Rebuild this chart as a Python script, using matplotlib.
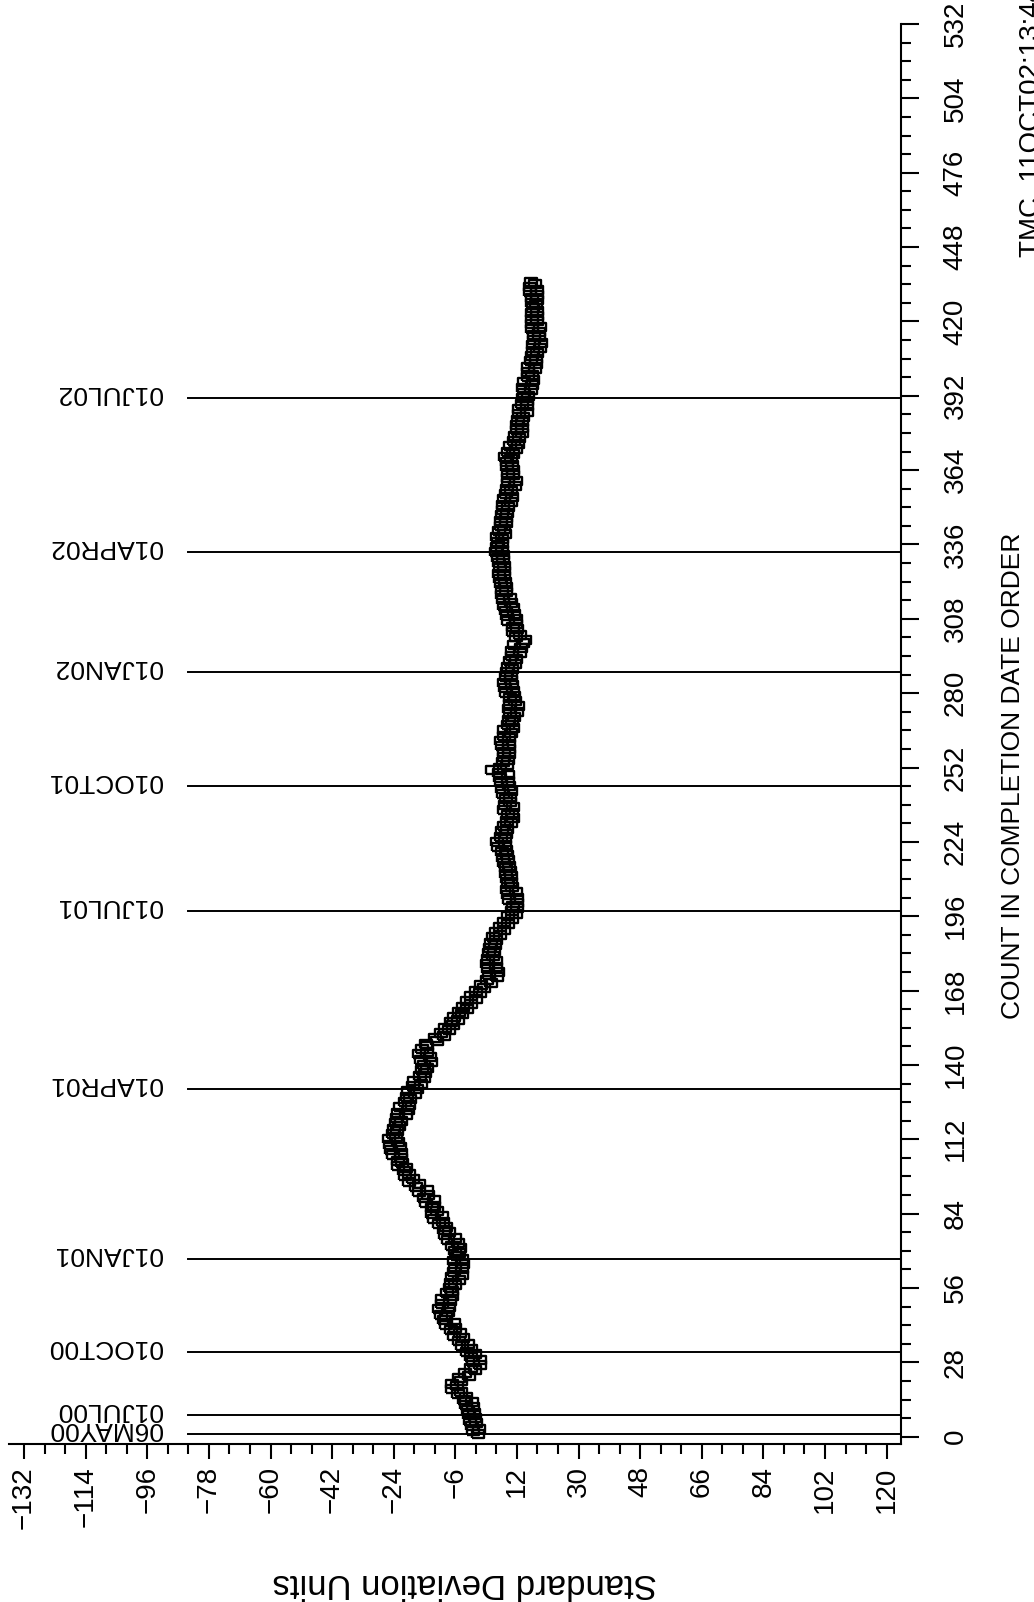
import numpy as np
import matplotlib
matplotlib.use("Agg")
import matplotlib.pyplot as plt
from matplotlib.ticker import FixedLocator, MultipleLocator

# standard deviation units, one value per completion count (1..435)
sd_values = [
    0.6, -0.8, 0.9, -1.2, 0.1, -1.7, -0.2, -2.0, -0.6, -2.3,
    -0.9, -2.8, -1.2, -3.6, -2.9, -5.2, -4.3, -7.0, -5.6, -6.9,
    -4.4, -5.0, -2.1, -3.2, -0.3, -1.5, 1.3, -0.9, 1.2, -1.4,
    -0.2, -2.7, -1.5, -4.1, -2.2, -5.0, -3.9, -6.5, -4.5, -7.2,
    -6.1, -8.7, -6.5, -9.4, -8.6, -10.1, -8.2, -10.9, -7.9, -10.0,
    -7.6, -9.8, -7.0, -8.3, -6.9, -7.6, -6.0, -7.2, -4.8, -6.9,
    -4.2, -6.4, -4.0, -6.2, -3.8, -6.3, -4.2, -5.6, -5.0, -6.1,
    -4.6, -6.9, -5.1, -8.1, -6.0, -8.9, -7.8, -9.2, -8.6, -10.8,
    -9.6, -12.1, -10.0, -12.8, -11.4, -12.9, -12.2, -14.5, -12.1, -15.1,
    -13.9, -16.5, -14.2, -17.4, -16.5, -19.5, -18.3, -20.8, -19.6, -21.0,
    -20.3, -22.8, -21.5, -22.7, -22.0, -24.2, -21.8, -24.7, -22.3, -25.0,
    -22.8, -25.5, -23.2, -24.1, -23.0, -23.8, -22.5, -23.4, -21.9, -23.0,
    -20.5, -22.8, -19.9, -22.1, -19.4, -20.6, -19.3, -20.0, -17.7, -19.8,
    -17.2, -18.4, -15.9, -18.1, -15.2, -16.3, -15.0, -15.7, -14.3, -15.2,
    -13.2, -15.9, -13.5, -16.5, -14.3, -15.6, -14.4, -14.5, -11.3, -12.0,
    -9.4, -10.3, -7.9, -9.0, -6.7, -7.4, -5.1, -6.3, -4.0, -5.0,
    -2.7, -3.8, -1.4, -2.5, -0.1, -1.3, 1.2, -0.1, 2.5, 1.6,
    4.3, 3.3, 6.2, 3.9, 6.5, 3.5, 5.8, 3.3, 5.9, 3.6,
    5.0, 3.9, 5.2, 4.1, 5.5, 4.5, 6.0, 4.9, 7.1, 6.0,
    8.2, 7.0, 9.3, 8.1, 10.5, 9.5, 11.8, 10.6, 12.0, 10.9,
    12.1, 9.7, 11.9, 9.5, 11.8, 9.2, 10.6, 9.3, 10.4, 9.0,
    10.2, 8.9, 9.9, 8.7, 9.8, 8.3, 9.3, 7.9, 9.0, 7.7,
    8.8, 6.4, 8.6, 6.1, 8.5, 7.3, 8.7, 7.7, 9.2, 8.2,
    10.4, 9.2, 10.7, 9.5, 10.5, 8.3, 10.8, 8.5, 9.9, 8.7,
    10.0, 7.8, 10.2, 7.6, 9.8, 7.3, 9.5, 7.0, 9.3, 6.7,
    4.6, 7.0, 9.2, 8.0, 9.3, 8.2, 9.6, 8.3, 9.7, 7.6,
    9.8, 7.4, 9.6, 8.1, 10.3, 8.2, 10.7, 9.3, 10.6, 9.6,
    11.1, 9.9, 12.0, 9.7, 12.2, 10.0, 11.3, 9.9, 11.0, 8.8,
    10.8, 8.4, 10.5, 8.1, 10.4, 8.9, 10.3, 9.2, 10.6, 9.4,
    11.5, 10.1, 11.6, 10.5, 12.8, 10.6, 13.2, 11.1, 13.7, 14.4,
    11.7, 13.0, 10.8, 12.1, 10.7, 11.7, 9.4, 11.6, 9.0, 11.1,
    8.7, 10.8, 8.3, 10.4, 8.0, 10.0, 7.6, 8.9, 7.5, 8.7,
    7.2, 8.4, 7.0, 8.1, 6.8, 8.3, 7.1, 8.2, 6.7, 8.0,
    6.5, 7.8, 6.0, 7.5, 6.1, 7.7, 6.4, 7.6, 6.2, 8.4,
    6.8, 8.3, 7.2, 8.7, 7.4, 8.9, 7.7, 9.1, 7.8, 9.3,
    8.0, 10.2, 8.1, 10.5, 8.9, 10.4, 9.2, 11.4, 9.3, 11.6,
    9.4, 10.9, 9.5, 10.7, 9.2, 10.5, 9.0, 10.2, 8.6, 10.8,
    9.4, 11.7, 10.1, 12.4, 11.0, 12.5, 11.3, 13.5, 12.0, 13.4,
    12.1, 13.6, 12.4, 13.9, 12.7, 14.8, 12.6, 15.0, 13.5, 14.9,
    13.7, 15.2, 14.0, 16.1, 13.9, 16.3, 14.2, 16.6, 15.1, 16.5,
    15.3, 17.4, 15.1, 17.7, 16.2, 17.6, 16.4, 17.9, 16.7, 18.8,
    16.6, 19.0, 16.9, 18.3, 17.0, 18.5, 16.3, 18.7, 16.4, 17.9,
    16.5, 17.8, 16.4, 18.0, 16.7, 17.7, 16.3, 17.8, 16.5, 17.9,
    15.8, 17.9, 15.9, 17.3, 16.0,
]
count = np.arange(1, len(sd_values) + 1)

date_labels = ["06MAY00", "01JUL00", "01OCT00", "01JAN01", "01APR01",
               "01JUL01", "01OCT01", "01JAN02", "01APR02", "01JUL02"]
date_counts = [1, 8, 32, 67, 131, 198, 245, 288, 333, 391]

sd_ticks = list(range(-132, 121, 18))
count_ticks = list(range(0, 533, 28))

narrow = ["Liberation Sans Narrow", "Liberation Sans", "DejaVu Sans"]
plain = ["Liberation Sans", "DejaVu Sans"]

W, H = 1034, 1602
fig = plt.figure(figsize=(W / 100, H / 100), dpi=100)
ax = fig.add_axes([9 / W, 1 - 1444 / H, 892 / W, (1444 - 24) / H])
xlo, xhi = -136.4, 124.2
ax.set_xlim(xlo, xhi)
ax.set_ylim(-2.75, 532)

# rectangular open boxes, a bit wider than tall
box = [(-1, -0.73), (1, -0.73), (1, 0.73), (-1, 0.73), (-1, -0.73)]
ax.plot(sd_values, count, linestyle="none", marker=box, ms=8.0,
        mfc="none", mec="black", mew=1.7)

# date reference lines with upside-down labels
line_start = -84.0
for lab, c in zip(date_labels, date_counts):
    ax.axhline(c, xmin=(line_start - xlo) / (xhi - xlo), xmax=1,
               color="black", lw=1.4)
    ax.text(-91.7, c + 1.9, lab, rotation=180, ha="right", va="center",
            fontsize=19, family=plain)

for s in ["top", "left"]:
    ax.spines[s].set_visible(False)
for s in ["bottom", "right"]:
    ax.spines[s].set_linewidth(1.5)

ax.xaxis.set_major_locator(FixedLocator(sd_ticks))
ax.xaxis.set_minor_locator(MultipleLocator(6))
ax.yaxis.set_major_locator(FixedLocator(count_ticks))
ax.yaxis.set_minor_locator(MultipleLocator(7))
ax.yaxis.tick_right()

ax.tick_params(axis="x", which="major", length=11, width=1.5, pad=5)
ax.tick_params(axis="x", which="minor", length=7, width=1.5)
ax.tick_params(axis="y", which="major", length=13, width=1.5, pad=17)
ax.tick_params(axis="y", which="minor", length=7, width=1.5)

for lab in ax.get_xticklabels():
    lab.set_rotation(90)
    lab.set_ha("center")
    lab.set_va("top")
    lab.set_fontsize(20)
    lab.set_family(narrow)
for lab in ax.get_yticklabels():
    lab.set_rotation(90)
    lab.set_ha("left")
    lab.set_va("center")
    lab.set_fontsize(20)
    lab.set_family(narrow)

fig.text(1001 / W, 1 - 775.5 / H, "COUNT IN COMPLETION DATE ORDER",
         rotation=90, ha="left", va="center", fontsize=19, family=narrow)
fig.text(465 / W, 1 - 1583.5 / H, "Standard Deviation Units",
         rotation=180, ha="center", va="center", fontsize=25, family=plain)
fig.text(1019 / W, 1 - 257 / H, "TMC  11OCT02:13:44",
         rotation=90, ha="left", va="bottom", fontsize=20, family=narrow)

fig.savefig("out.png", dpi=100, facecolor="white")
